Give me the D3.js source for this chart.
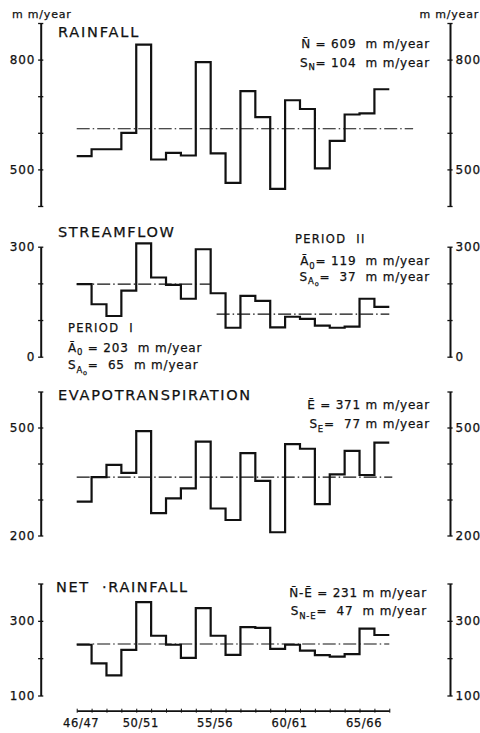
<!DOCTYPE html>
<html><head><meta charset="utf-8">
<script src="https://cdn.jsdelivr.net/npm/d3@7"></script>
<style>
html,body{margin:0;padding:0;background:#fff;}
svg{display:block;}
text{font-family:"DejaVu Sans",sans-serif;fill:#111;white-space:pre;stroke:#111;stroke-width:0.25px;}
</style></head>
<body>
<script>
// ---- data ----
const years = ["46/47","47/48","48/49","49/50","50/51","51/52","52/53","53/54","54/55","55/56",
  "56/57","57/58","58/59","59/60","60/61","61/62","62/63","63/64","64/65","65/66","66/67"];
const tickLabels = ["46/47","50/51","55/56","60/61","65/66"];
const rainfall = [536,555,555,600,841,527,545,538,793,544,463,714,643,447,689,665,503,578,650,653,719];
const streamflow = [198,143,111,180,309,216,196,158,293,173,79,166,152,80,109,103,85,79,82,158,136];
const evapotranspiration = [294,362,396,374,490,262,303,331,461,275,243,429,352,209,454,441,287,370,435,368,458];
const netRainfall = [236,186,154,222,350,260,236,201,334,260,209,283,281,225,236,220,208,204,211,279,262];
// dash-dot mean levels as drawn, and their extents in year index
const rainfallMean = 611, rainfallMeanSpan = [0, 22.6];
const streamPeriodI = 198, periodISpan = [0, 8.95];
const streamPeriodII = 116, periodIISpan = [9.4, 21];
const evapMean = 362, evapMeanSpan = [0, 21.2];
const netMean = 238, netMeanSpan = [0, 21];
const rainTicks = [400,500,600,700,800,900], rainLabels = [500,800];
const streamTicks = [0,100,200,300], streamLabels = [0,300];
const evapTicks = [200,300,400,500,600], evapLabels = [200,500];
const netTicks = [100,200,300,400], netLabels = [100,300];

const W = 480, H = 733;
const svg = d3.select("body").append("svg").attr("width", W).attr("height", H);
svg.append("rect").attr("width", W).attr("height", H).attr("fill", "#fff");

const x = d3.scaleLinear().domain([0, years.length]).range([76.7, 389.3]);
const LX = 40.7, RX = 450;

const panels = [
  {data: rainfall, y: d3.scaleLinear().domain([400,900]).range([206,23]), ticks: rainTicks, labels: rainLabels,
   means: [[rainfallMean, rainfallMeanSpan]]},
  {data: streamflow, y: d3.scaleLinear().domain([0,300]).range([356.7,246.7]), ticks: streamTicks, labels: streamLabels,
   means: [[streamPeriodI, periodISpan],[streamPeriodII, periodIISpan]]},
  {data: evapotranspiration, y: d3.scaleLinear().domain([200,600]).range([535.5,391.5]), ticks: evapTicks, labels: evapLabels,
   means: [[evapMean, evapMeanSpan]]},
  {data: netRainfall, y: d3.scaleLinear().domain([100,400]).range([695.5,583.5]), ticks: netTicks, labels: netLabels,
   means: [[netMean, netMeanSpan]]}
];

function styleAxis(g) {
  g.select(".domain").attr("stroke", "#111").attr("stroke-width", 2);
  g.selectAll(".tick line").attr("stroke", "#111").attr("stroke-width", 1.3)
    .attr("x1", -2.6).attr("x2", 2.6);
  g.selectAll(".tick text").attr("font-size", 12).attr("letter-spacing", 0.8).attr("fill", "#111");
}

panels.forEach(p => {
  const fmt = d => p.labels.includes(d) ? d : "";
  const gl = svg.append("g").attr("transform", `translate(${LX},0)`)
    .call(d3.axisLeft(p.y).tickValues(p.ticks).tickSizeOuter(0).tickSizeInner(2.6).tickPadding(3).tickFormat(fmt));
  styleAxis(gl);
  const gr = svg.append("g").attr("transform", `translate(${RX},0)`)
    .call(d3.axisRight(p.y).tickValues(p.ticks).tickSizeOuter(0).tickSizeInner(2.6).tickPadding(3).tickFormat(fmt));
  styleAxis(gr);
  p.means.forEach(([v, span]) => {
    svg.append("line").attr("x1", x(span[0])).attr("x2", x(span[1]))
      .attr("y1", p.y(v)).attr("y2", p.y(v))
      .attr("stroke", "#111").attr("stroke-width", 1.2).attr("stroke-dasharray", "13,3,1.5,3");
  });
  const pts = p.data.map((v, i) => [i, v]).concat([[p.data.length, p.data[p.data.length - 1]]]);
  svg.append("path").datum(pts)
    .attr("d", d3.line().x(d => x(d[0])).y(d => p.y(d[1])).curve(d3.curveStepAfter))
    .attr("fill", "none").attr("stroke", "#111").attr("stroke-width", 2.2).attr("stroke-linejoin", "miter");
});

// bottom year axis
const gb = svg.append("g").attr("transform", "translate(0,710.7)")
  .call(d3.axisBottom(x).tickValues(d3.range(years.length + 1)).tickSizeOuter(0).tickSizeInner(2).tickPadding(6)
    .tickFormat(i => (i < years.length && tickLabels.includes(years[i])) ? years[i] : ""));
gb.select(".domain").attr("stroke", "#111").attr("stroke-width", 1.8);
gb.selectAll(".tick line").attr("stroke", "#111").attr("y1", -2).attr("y2", 2);
gb.selectAll(".tick text").attr("font-size", 11.5).attr("letter-spacing", 0.6).attr("dx", 4).attr("fill", "#111");

function label(xp, yp, parts, opts = {}) {
  const t = svg.append("text").attr("x", xp).attr("y", yp)
    .attr("font-size", opts.size || 12).attr("letter-spacing", opts.ls != null ? opts.ls : 0.8)
    .attr("text-anchor", opts.anchor || "start");
  let level = 0;
  const off = [0, 3.5, 5.5], sz = [opts.size || 12, 8.5, 6.5];
  parts.forEach(pt => {
    const [s, lv] = Array.isArray(pt) ? pt : [pt, 0];
    t.append("tspan").attr("dy", off[lv] - off[level]).attr("font-size", sz[lv]).text(s);
    level = lv;
  });
  return t;
}

// unit labels
label(12, 18, ["m m/year"], {size: 11, ls: 0.8});
label(479, 18, ["m m/year"], {size: 11, ls: 0.8, anchor: "end"});

// titles
label(58, 37.3, ["RAINFALL"], {size: 14.5, ls: 1.8});
label(58, 237.3, ["STREAMFLOW"], {size: 14.5, ls: 1.6});
label(58, 400, ["EVAPOTRANSPIRATION"], {size: 14.5, ls: 1.7});
label(56, 591.7, ["NET  ·RAINFALL"], {size: 14.5, ls: 1.6});

// statistics
label(430, 48.3, ["N\u0304 = 609  m m/year"], {anchor: "end"});
label(430, 66.7, ["S", ["N", 1], ["= 104  m m/year", 0]], {anchor: "end"});

label(295, 243.3, ["PERIOD  II"], {size: 11.5, ls: 1.3});
label(430, 265, ["\u0100", ["0", 1], ["= 119  m m/year", 0]], {anchor: "end"});
label(430, 280.7, ["S", ["A", 1], ["o", 2], ["=  37  m m/year", 0]], {anchor: "end"});

label(68, 331.7, ["PERIOD  I"], {size: 11.5, ls: 1.3});
label(68, 351.7, ["\u0100", ["0", 1], [" = 203  m m/year", 0]]);
label(68, 369.3, ["S", ["A", 1], ["o", 2], ["=  65  m m/year", 0]]);

label(430, 409.3, ["\u0112 = 371 m m/year"], {anchor: "end"});
label(430, 428.3, ["S", ["E", 1], ["=  77 m m/year", 0]], {anchor: "end"});

label(427, 596.7, ["N\u0304-\u0112 = 231 m m/year"], {anchor: "end"});
label(427, 615, ["S", ["N-E", 1], ["=  47  m m/year", 0]], {anchor: "end"});
</script>
</body></html>
